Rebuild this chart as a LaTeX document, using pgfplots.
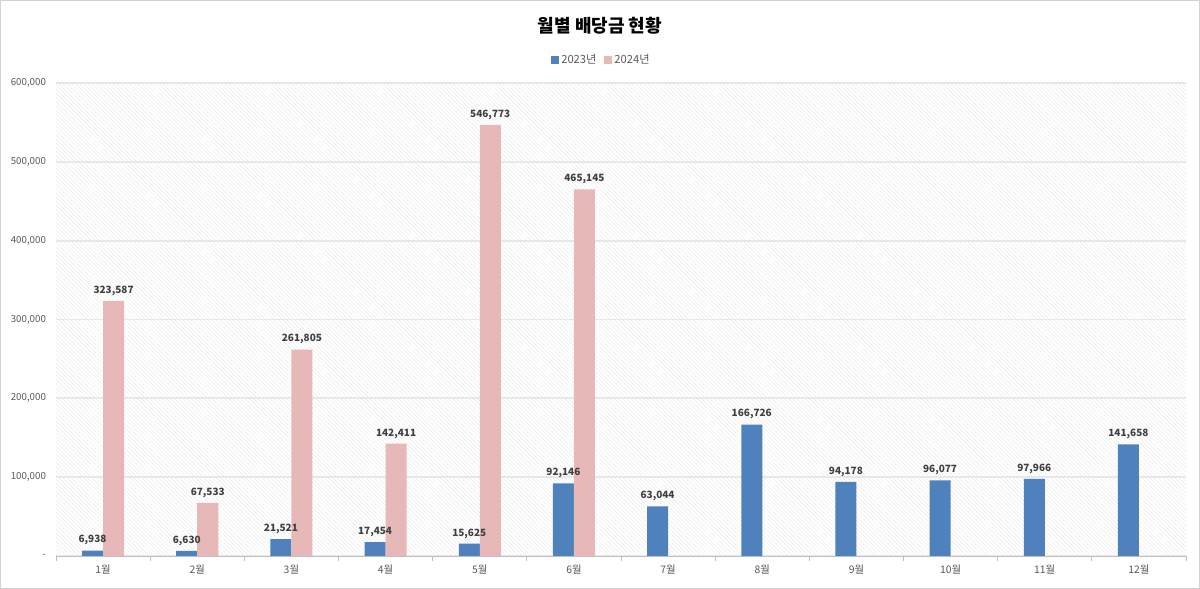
\documentclass[border=0pt]{standalone}
\usepackage{fontspec}
\setmainfont{Noto Sans CJK KR}
\usepackage{pgfplots}
\pgfplotsset{compat=1.18}
\usetikzlibrary{patterns.meta}
\definecolor{c23}{HTML}{4F81BD}
\definecolor{c24}{HTML}{E6B9B8}
\definecolor{ticktxt}{HTML}{595959}
\definecolor{lbl}{HTML}{404040}

\begin{document}
\begin{tikzpicture}
% whole chart area, 1px = 0.75pt
\path[use as bounding box] (-42pt,-24.75pt) rectangle (858pt,417pt);
\draw[gray!35, line width=0.8pt] (-41.6pt,-24.35pt) rectangle (857.6pt,416.6pt);
\node[font=\bfseries\fontsize{13.5}{16}\selectfont] at (408pt,398pt) {월별 배당금 현황};
\begin{axis}[
    scale only axis,
    width=847.5pt, height=354.75pt,
    xmin=0.5, xmax=12.5,
    ymin=0, ymax=600000,
    ybar=0pt, bar width=15.75pt,
    axis background/.style={pattern={Lines[angle=-45,distance=2.2pt,line width=0.3pt]}, pattern color=gray!18},
    axis x line*=bottom,
    axis y line*=left,
    y axis line style={draw=none},
    x axis line style={gray!50, line width=0.7pt},
    xtick={1,...,12},
    xticklabels={1월,2월,3월,4월,5월,6월,7월,8월,9월,10월,11월,12월},
    minor xtick={0.5,1.5,...,12.5},
    major tick length=0pt,
    minor tick length=4pt,
    tick align=outside,
    minor x tick style={gray!50, line width=0.7pt},
    scaled y ticks=false,
    ytick={0,100000,200000,300000,400000,500000,600000},
    yticklabels={-,{100,000},{200,000},{300,000},{400,000},{500,000},{600,000}},
    ymajorgrids,
    grid style={gray!18, line width=1.3pt},
    ticklabel style={font=\fontsize{7.3}{8}\selectfont, text=ticktxt},
    xticklabel style={yshift=-3pt, font=\fontsize{7.8}{9}\selectfont},
    yticklabel style={xshift=-4pt},
    /pgf/number format/.cd, fixed, precision=0, 1000 sep={,}, assume math mode=true,
    /pgfplots/.cd,
    nodes near coords,
    every node near coord/.append style={font=\bfseries\fontsize{7.5}{9}\selectfont, text=lbl, yshift=0.5pt},
    legend style={at={(0.483,1.049)}, anchor=center, draw=none, fill=none,
        legend columns=2, font=\fontsize{8.4}{10}\selectfont, text=ticktxt,
        /tikz/every even column/.append style={column sep=4pt}},
    legend image code/.code={\fill[#1] (0pt,-3pt) rectangle (5.5pt,3pt);},
]
\addplot[fill=c23, draw=none] coordinates {
    (1,6938) (2,6630) (3,21521) (4,17454) (5,15625) (6,92146)
    (7,63044) (8,166726) (9,94178) (10,96077) (11,97966) (12,141658)
};
\addplot[fill=c24, draw=none] coordinates {
    (1,323587) (2,67533) (3,261805) (4,142411) (5,546773) (6,465145)
};
\legend{2023년, 2024년}
\end{axis}
\end{tikzpicture}
\end{document}
